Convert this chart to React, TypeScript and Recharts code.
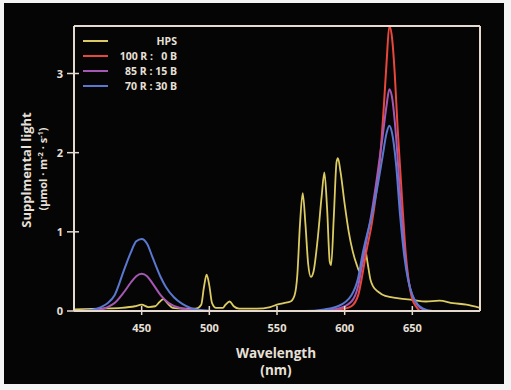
import React from 'react';
import { LineChart, Line, XAxis, YAxis } from 'recharts';

// wavelength (nm) / value pairs
const hpsNm = [400, 420, 435, 445, 450, 455, 460, 463, 466, 469, 473, 480, 490, 494, 496, 498, 500, 502, 505, 510, 512, 515, 518, 522, 535, 545, 550, 555, 560, 563, 565, 567, 569, 571, 573, 575, 577, 580, 583, 585, 587, 589, 590, 592, 594, 595, 597, 600, 603, 606, 609, 611, 613, 615, 617, 619, 621, 625, 630, 640, 650, 660, 670, 680, 690, 700];
const hpsVal = [0.02, 0.03, 0.04, 0.06, 0.08, 0.05, 0.06, 0.11, 0.15, 0.1, 0.04, 0.03, 0.03, 0.08, 0.3, 0.46, 0.32, 0.1, 0.04, 0.04, 0.08, 0.12, 0.06, 0.03, 0.03, 0.05, 0.08, 0.1, 0.12, 0.2, 0.45, 1.1, 1.49, 1.1, 0.6, 0.43, 0.5, 0.9, 1.45, 1.75, 1.3, 0.62, 0.58, 1.2, 1.88, 1.93, 1.75, 1.35, 1.0, 0.75, 0.58, 0.5, 0.6, 0.78, 0.6, 0.4, 0.31, 0.24, 0.19, 0.16, 0.14, 0.12, 0.13, 0.1, 0.08, 0.04];

const redNm = [400, 580, 600, 605, 610, 613, 616, 620, 623, 626, 629, 631, 633, 635, 637, 639, 641, 643, 645, 647, 650, 653, 656, 700];
const redVal = [0, 0, 0.03, 0.06, 0.2, 0.45, 0.75, 1.1, 1.45, 1.9, 2.6, 3.15, 3.6, 3.45, 3.0, 2.35, 1.8, 1.25, 0.75, 0.42, 0.15, 0.05, 0, 0];

const purpleNm = [400, 415, 425, 430, 437, 442, 446, 450, 454, 458, 464, 470, 478, 490, 500, 580, 595, 605, 610, 613, 616, 620, 624, 628, 631, 633, 635, 638, 641, 644, 647, 650, 654, 658, 665, 700];
const purpleVal = [0, 0.01, 0.05, 0.1, 0.24, 0.36, 0.44, 0.47, 0.44, 0.35, 0.2, 0.1, 0.04, 0.01, 0, 0, 0.03, 0.12, 0.32, 0.6, 0.88, 1.25, 1.7, 2.2, 2.6, 2.8, 2.7, 2.2, 1.45, 0.8, 0.4, 0.2, 0.07, 0.02, 0, 0];

const blueNm = [400, 412, 420, 425, 430, 437, 442, 446, 450, 454, 458, 464, 468, 474, 480, 486, 495, 505, 570, 585, 595, 605, 610, 613, 616, 620, 624, 628, 631, 633, 635, 638, 641, 644, 647, 650, 654, 658, 665, 700];
const blueVal = [0, 0.01, 0.05, 0.1, 0.2, 0.52, 0.74, 0.88, 0.91, 0.85, 0.68, 0.43, 0.3, 0.17, 0.09, 0.04, 0.01, 0, 0, 0.02, 0.06, 0.2, 0.42, 0.7, 0.93, 1.2, 1.55, 1.95, 2.25, 2.34, 2.25, 1.85, 1.2, 0.7, 0.38, 0.2, 0.08, 0.03, 0, 0];

const xTicks = [450, 500, 550, 600, 650];
const yTicks = [0, 1, 2, 3];

const seriesNames = ['HPS', '100 R :   0 B', '85 R : 15 B', '70 R : 30 B'];
const seriesColors = ['#dccb62', '#e8473b', '#a458b4', '#5a78d0'];

const toRows = (nm: number[], val: number[]) => nm.map((n, i) => ({ nm: n, v: val[i] }));

const hpsData = toRows(hpsNm, hpsVal);
const redData = toRows(redNm, redVal);
const purpleData = toRows(purpleNm, purpleVal);
const blueData = toRows(blueNm, blueVal);

const FRAME = '#e6dad0';
const TEXT = '#e8e0d8';
const FONT = '"Open Sans", "DejaVu Sans", sans-serif';

const BottomTick = ({ x, y, payload }: any) => (
  <g>
    <line x1={x} x2={x} y1={y - 5} y2={y + 4} stroke={FRAME} strokeWidth={1.5} />
    <text x={x} y={y + 21} textAnchor="middle" fill={TEXT} fontSize={11} fontWeight={700} fontFamily={FONT}>
      {payload.value}
    </text>
  </g>
);

const LeftTick = ({ x, y, payload }: any) => (
  <g>
    <line x1={x - 7} x2={x + 5} y1={y} y2={y} stroke={FRAME} strokeWidth={1.5} />
    <text x={x - 11} y={y + 4} textAnchor="end" fill={TEXT} fontSize={11} fontWeight={700} fontFamily={FONT}>
      {payload.value}
    </text>
  </g>
);

const TopTick = ({ x, y }: any) => <line x1={x} x2={x} y1={y} y2={y + 5} stroke={FRAME} strokeWidth={1.5} />;
const RightTick = ({ x, y }: any) => <line x1={x - 5} x2={x} y1={y} y2={y} stroke={FRAME} strokeWidth={1.5} />;

export default function App() {
  return (
    <div style={{ position: 'fixed', left: 0, top: 0, width: 511, height: 390, background: '#f4f4f4' }}>
      <div style={{ position: 'absolute', left: 4, top: 3, width: 500, height: 381, background: '#050505' }}>
        <LineChart width={500} height={381} margin={{ top: 13, right: 14, bottom: 43, left: 30 }}>
          <XAxis
            xAxisId="b"
            type="number"
            dataKey="nm"
            domain={[400, 700]}
            ticks={xTicks}
            interval={0}
            allowDataOverflow
            height={30}
            tickSize={0}
            tickMargin={0}
            axisLine={{ stroke: FRAME, strokeWidth: 2 }}
            tickLine={false}
            tick={<BottomTick />}
          />
          <XAxis
            xAxisId="t"
            orientation="top"
            type="number"
            dataKey="nm"
            domain={[400, 700]}
            ticks={xTicks}
            interval={0}
            height={10}
            tickSize={0}
            tickMargin={0}
            axisLine={{ stroke: FRAME, strokeWidth: 2 }}
            tickLine={false}
            tick={<TopTick />}
          />
          <YAxis
            yAxisId="l"
            type="number"
            domain={[0, 3.6]}
            ticks={yTicks}
            interval={0}
            allowDataOverflow
            width={40}
            tickSize={0}
            tickMargin={0}
            axisLine={{ stroke: FRAME, strokeWidth: 2 }}
            tickLine={false}
            tick={<LeftTick />}
          />
          <YAxis
            yAxisId="r"
            orientation="right"
            type="number"
            domain={[0, 3.6]}
            ticks={yTicks}
            interval={0}
            width={10}
            tickSize={0}
            tickMargin={0}
            axisLine={{ stroke: FRAME, strokeWidth: 2 }}
            tickLine={false}
            tick={<RightTick />}
          />
          <Line xAxisId="b" yAxisId="l" data={hpsData} dataKey="v" type="monotone" stroke={seriesColors[0]} strokeWidth={1.8} dot={false} isAnimationActive={false} />
          <Line xAxisId="b" yAxisId="l" data={redData} dataKey="v" type="monotone" stroke={seriesColors[1]} strokeWidth={2} dot={false} isAnimationActive={false} />
          <Line xAxisId="b" yAxisId="l" data={purpleData} dataKey="v" type="monotone" stroke={seriesColors[2]} strokeWidth={2} dot={false} isAnimationActive={false} />
          <Line xAxisId="b" yAxisId="l" data={blueData} dataKey="v" type="monotone" stroke={seriesColors[3]} strokeWidth={2} dot={false} isAnimationActive={false} />
        </LineChart>

        {/* legend and axis titles */}
        <svg width={500} height={381} style={{ position: 'absolute', left: 0, top: 0, pointerEvents: 'none' }} fontFamily={FONT}>
          {seriesNames.map((name, i) => (
            <g key={name}>
              <line x1={79} x2={104} y1={38 + i * 15} y2={38 + i * 15} stroke={seriesColors[i]} strokeWidth={2} />
              <text x={173} y={42 + i * 15} textAnchor="end" fill={TEXT} fontSize={10.5} fontWeight={700} style={{ whiteSpace: 'pre' }}>
                {name}
              </text>
            </g>
          ))}
          <text x={272} y={355} textAnchor="middle" fill={TEXT} fontSize={13.5} fontWeight={700}>Wavelength</text>
          <text x={272} y={372} textAnchor="middle" fill={TEXT} fontSize={13.5} fontWeight={700}>(nm)</text>
          <text x={27} y={167} transform="rotate(-90 27 167)" textAnchor="middle" fill={TEXT} fontSize={13} fontWeight={700}>
            Supplmental light
          </text>
          <text x={43} y={166} transform="rotate(-90 43 166)" textAnchor="middle" fill={TEXT} fontSize={11} fontWeight={700}>
            (µmol · m<tspan fontSize={7.5} dy={-4}>-2</tspan><tspan dy={4}> · s</tspan><tspan fontSize={7.5} dy={-4}>-1</tspan><tspan dy={4}>)</tspan>
          </text>
        </svg>
      </div>
    </div>
  );
}
